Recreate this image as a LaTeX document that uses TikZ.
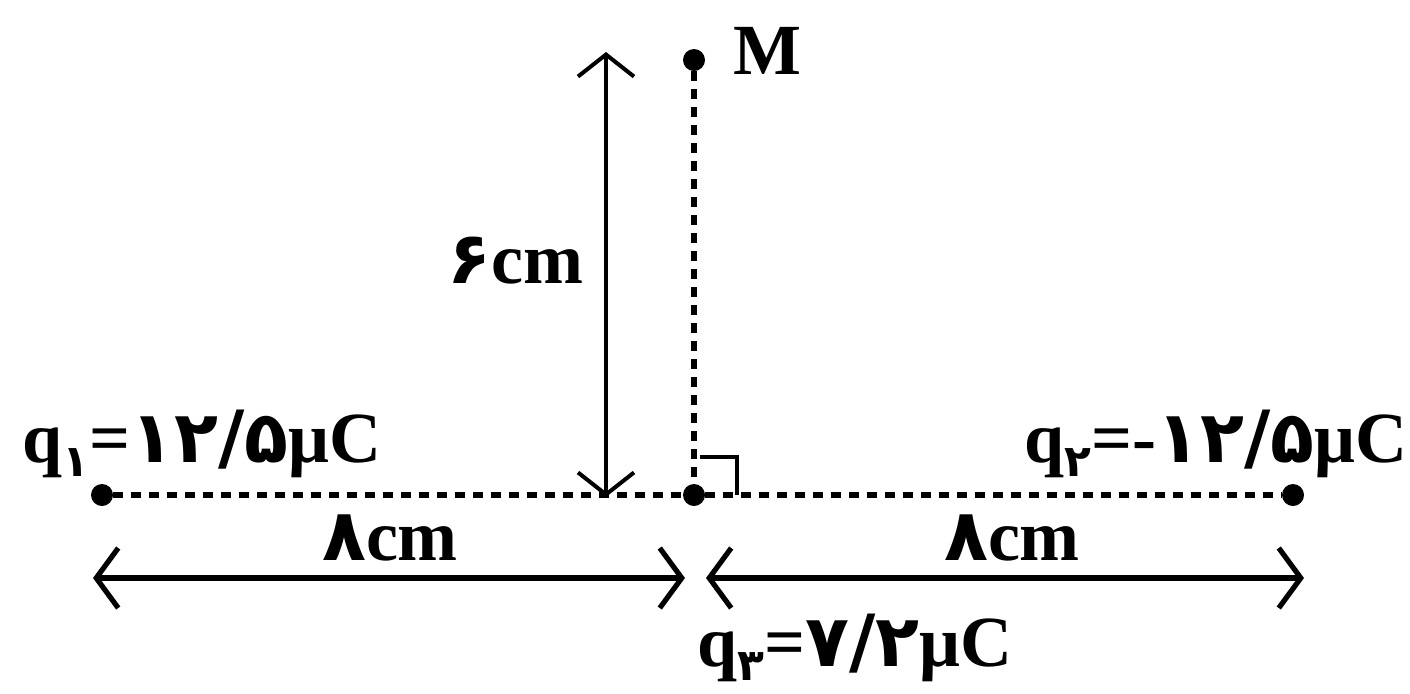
\documentclass[tikz,border=0pt]{standalone}
\usepackage{fontspec}
\setmainfont{Liberation Serif}
\newfontfamily\fa{DejaVu Sans}
\usetikzlibrary{arrows.meta}
\newcommand\qsub[1]{\raisebox{-0.45ex}{\fontsize{22}{22}\selectfont\fa #1}}
\newcommand\fd[1]{{\fa #1}}
\tikzset{
  dot/.style={circle,fill=black,inner sep=0pt,minimum size=11pt},
  lbl/.style={inner sep=0pt,font=\fontsize{36}{38}\selectfont\bfseries},
  guide/.style={line width=3pt,dash pattern=on 5pt off 4pt},
  dim/.style={line width=2.6pt,{Straight Barb[length=11pt,width=30pt]}-{Straight Barb[length=11pt,width=30pt]}},
  vdim/.style={line width=2pt,{Straight Barb[length=11pt,width=28pt]}-{Straight Barb[length=11pt,width=28pt]}},
  rmark/.style={line width=2pt}
}
\begin{document}
\begin{tikzpicture}[x=0.5pt,y=-0.5pt]
\useasboundingbox (0,0) rectangle (1410,693);
% charges and point M
\node[dot] (q1) at (102,495) {};
\node[dot] (q3) at (694,495) {};
\node[dot] (q2) at (1293,495) {};
\node[dot] (M) at (694,60) {};
% guide lines
\draw[guide] (q1) -- (q3);
\draw[guide] (q3) -- (q2);
\draw[guide] (M) -- (q3);
% right angle mark
\coordinate (r1) at (700,457);
\coordinate (r2) at (737,457);
\coordinate (r3) at (737,495);
\draw[rmark] (r1) -- (r2) -- (r3);
% 6cm dimension
\coordinate (v1) at (606,52);
\coordinate (v2) at (606,497);
\draw[vdim] (v1) -- (v2);
% 8cm dimensions
\coordinate (a1) at (93,578);
\coordinate (a2) at (685,578);
\coordinate (a3) at (706,578);
\coordinate (a4) at (1304,578);
\draw[dim] (a1) -- (a2);
\draw[dim] (a3) -- (a4);
% labels
\node[lbl,anchor=base west] (Ml) at (733,74) {M};
\node[lbl,anchor=base east] (d6) at (584,283) {\fd{۶}cm};
\node[lbl,anchor=base] (d8a) at (390,560) {\fd{۸}cm};
\node[lbl,anchor=base] (d8b) at (1012,560) {\fd{۸}cm};
\node[lbl,anchor=base west] (l1) at (22,462) {q\qsub{۱}=\fd{۱۲/۵}μC};
\node[lbl,anchor=base east] (l2) at (1408,462) {q\qsub{۲}=-\fd{۱۲/۵}μC};
\node[lbl,anchor=base west] (l3) at (697,666) {q\qsub{۳}=\fd{۷/۲}μC};
\end{tikzpicture}
\end{document}
